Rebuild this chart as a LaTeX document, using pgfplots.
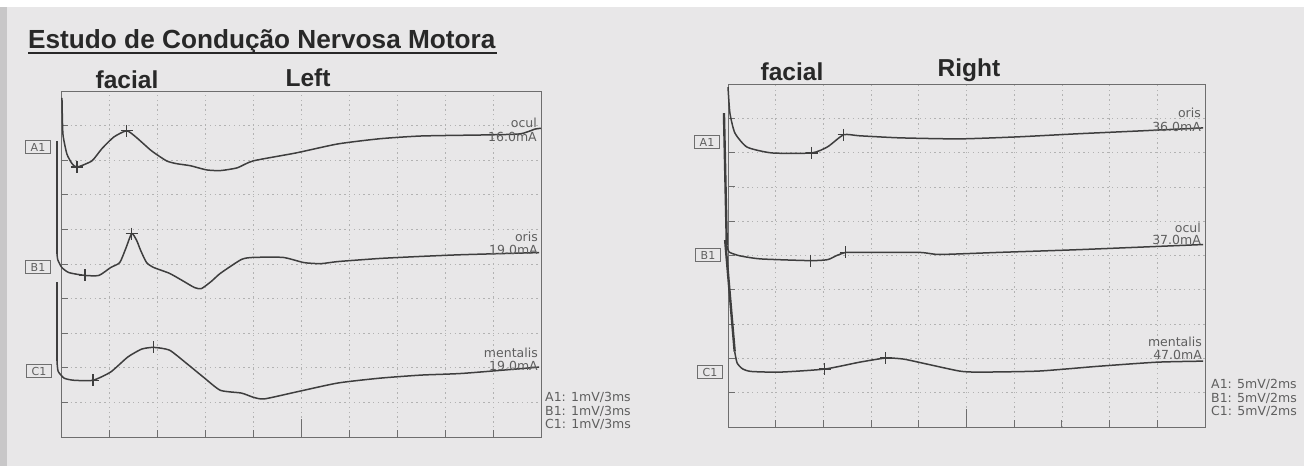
\documentclass[border=0pt]{standalone}
\usepackage{fontspec}
\setmainfont{DejaVu Sans}
\newfontfamily\headfont{Liberation Sans}
\usepackage{pgfplots}
\pgfplotsset{compat=1.18}
\definecolor{paper}{RGB}{232,231,232}
\definecolor{edge}{RGB}{200,199,200}
\definecolor{trace}{RGB}{62,62,62}
\definecolor{frame}{RGB}{110,110,110}
\definecolor{gridc}{RGB}{178,178,178}
\definecolor{ink}{RGB}{40,40,40}
\definecolor{smallink}{RGB}{95,95,95}
\pgfplotsset{
  emg/.style={
    scale only axis, anchor=south west, clip=false,
    ymin=0, ymax=10, ytick={0,1,...,10},
    xticklabels={}, yticklabels={},
    axis line style={frame, line width=0.9pt},
    tick pos=left, tick align=inside,
    major tick length=7pt,
    tick style={frame, line width=0.9pt},
    grid=major,
    major grid style={gridc, line width=0.7pt, dash pattern=on 1.4pt off 3.4pt},
    extra tick style={major tick length=18pt, grid=none},
    extra x tick labels={},
  },
  tr/.style={trace, line width=1.5pt, smooth, tension=0.35, line join=round},
  art/.style={trace, line width=2.4pt},
  mk/.style={trace, only marks, mark=+, mark size=6pt, mark options={line width=1.3pt}},
}
\newcommand{\bigt}[1]{{\headfont\bfseries\fontsize{24.5}{28}\selectfont #1}}
\newcommand{\sml}[1]{{\fontsize{12.5}{14}\selectfont\color{smallink} #1}}
\begin{document}
\begin{tikzpicture}[x=1pt,y=1pt]
\fill[paper] (0pt,0pt) rectangle (1304pt,466pt);
\fill[white] (0pt,459pt) rectangle (1304pt,466pt);
\fill[edge] (0pt,0pt) rectangle (7pt,459pt);

% ---------------- Left panel ----------------
\begin{axis}[emg, at={(61pt,29pt)}, width=480pt, height=346pt,
  xmin=0, xmax=30, xtick={0,3,...,30}, extra x ticks={15}]
% A1 ocul
\addplot[tr] coordinates {(0.06,9.80) (0.12,8.76) (0.37,8.18) (0.69,7.90) (1.00,7.80) (1.93,7.98) (2.55,8.33) (3.30,8.67) (4.11,8.85) (4.73,8.65) (5.66,8.27) (6.60,7.98) (7.22,7.90) (8.09,7.84) (9.09,7.72) (9.96,7.70) (11.02,7.78) (12.01,7.98) (14.69,8.21) (17.30,8.47) (19.92,8.62) (22.53,8.70) (26.45,8.73) (28.69,8.76) (29.63,8.90) (30,8.92)};
\addplot[mk] coordinates {(1.00,7.80) (4.11,8.85)};
% B1 oris
\addplot[art] coordinates {(-0.25,8.56) (-0.25,5.30)};
\addplot[tr] coordinates {(-0.25,5.30) (-0.20,5.12) (0.05,4.90) (0.50,4.75) (1.50,4.67) (2.37,4.67) (3.11,4.90) (3.67,5.04) (4.05,5.45) (4.42,5.88) (4.73,5.68) (4.98,5.39) (5.35,5.04) (5.79,4.90) (6.78,4.73) (7.59,4.52) (8.34,4.32) (8.78,4.29) (9.40,4.50) (9.96,4.73) (11.27,5.13) (12.01,5.19) (13.88,5.19) (15.19,5.04) (16.24,5.01) (17.30,5.07) (19.92,5.16) (22.53,5.22) (25.15,5.27) (29.88,5.33)};
\addplot[mk] coordinates {(1.50,4.67) (4.42,5.88)};
% C1 mentalis
\addplot[art] coordinates {(-0.25,4.47) (-0.25,2.20)};
\addplot[tr] coordinates {(-0.25,2.20) (-0.18,1.90) (0.20,1.70) (0.80,1.64) (2.00,1.64) (3.11,1.88) (4.17,2.31) (5.04,2.54) (5.79,2.59) (6.78,2.51) (7.84,2.13) (8.90,1.73) (9.96,1.35) (11.27,1.27) (12.01,1.15) (12.70,1.10) (14.69,1.30) (17.30,1.56) (19.92,1.70) (22.53,1.79) (25.15,1.84) (29.88,2.02)};
\addplot[mk] coordinates {(2.00,1.64) (5.79,2.59)};
\end{axis}

% ---------------- Right panel ----------------
\begin{axis}[emg, at={(728pt,39pt)}, width=477pt, height=343pt,
  xmin=0, xmax=20, xtick={0,2,...,20}, extra x ticks={10}]
% A1 oris
\addplot[tr] coordinates {(0.0,9.91) (0.08,9.15) (0.29,8.57) (0.80,8.16) (1.84,7.99) (3.51,7.99) (4.18,8.17) (4.85,8.52) (5.52,8.49) (7.20,8.43) (9.71,8.40) (12.18,8.46) (14.69,8.55) (17.20,8.63) (19.92,8.72)};
\addplot[mk] coordinates {(3.51,7.99) (4.85,8.52)};
% B1 ocul
\addplot[art] coordinates {(-0.17,9.15) (-0.05,5.30)};
\addplot[tr] coordinates {(-0.05,5.30) (0.05,5.10) (0.50,4.99) (1.38,4.90) (3.47,4.85) (4.18,4.88) (4.56,5.00) (4.94,5.09) (5.52,5.09) (8.03,5.09) (8.87,5.03) (11.34,5.09) (14.69,5.17) (19.92,5.32)};
\addplot[mk] coordinates {(3.47,4.85) (4.94,5.09)};
% C1 mentalis
\addplot[art] coordinates {(-0.12,5.45) (0.28,2.20)};
\addplot[tr] coordinates {(0.28,2.20) (0.38,1.87) (0.60,1.70) (0.96,1.62) (2.18,1.60) (4.06,1.69) (5.52,1.89) (6.61,2.01) (7.36,1.98) (8.37,1.83) (9.71,1.63) (10.50,1.60) (13.01,1.63) (15.52,1.77) (17.99,1.89) (19.92,1.92)};
\addplot[mk] coordinates {(4.06,1.69) (6.61,2.01)};
\end{axis}

% ---------------- Texts ----------------
\node[anchor=west, inner sep=0pt, text=ink] at (28pt,424pt) {{\headfont\bfseries\fontsize{26.2}{28}\selectfont Estudo de Condução Nervosa Motora}};
\draw[ink, line width=1.1pt] (28pt,413pt) -- (497pt,413pt);

\node[text=ink] at (127pt,386pt) {\bigt{facial}};
\node[text=ink] at (308pt,388pt) {\bigt{Left}};
\node[text=ink] at (792pt,394pt) {\bigt{facial}};
\node[text=ink] at (969pt,396pt) {\bigt{Right}};

\tikzset{lab/.style={draw=frame, line width=0.8pt, inner sep=1pt, minimum width=25pt, minimum height=13pt, text=smallink, font=\fontsize{11}{12}\selectfont}}
\node[lab] at (38pt,319pt) {A1};
\node[lab] at (38pt,199pt) {B1};
\node[lab] at (39pt,95pt) {C1};
\node[lab] at (707pt,324pt) {A1};
\node[lab] at (708pt,211pt) {B1};
\node[lab] at (710pt,94pt) {C1};

\tikzset{tl/.style={anchor=east, inner sep=0pt}}
\node[tl] at (537pt,343pt) {\sml{ocul}};
\node[tl] at (537pt,329pt) {\sml{16.0mA}};
\node[tl] at (538pt,229pt) {\sml{oris}};
\node[tl] at (538pt,216pt) {\sml{19.0mA}};
\node[tl] at (538pt,113pt) {\sml{mentalis}};
\node[tl] at (538pt,100pt) {\sml{19.0mA}};
\node[tl] at (1201pt,353pt) {\sml{oris}};
\node[tl] at (1201pt,339pt) {\sml{36.0mA}};
\node[tl] at (1201pt,238pt) {\sml{ocul}};
\node[tl] at (1201pt,226pt) {\sml{37.0mA}};
\node[tl] at (1202pt,124pt) {\sml{mentalis}};
\node[tl] at (1202pt,111pt) {\sml{47.0mA}};

\tikzset{sc/.style={anchor=west, inner sep=0pt}}
\node[sc] at (545pt,69pt) {\sml{A1: 1mV/3ms}};
\node[sc] at (545pt,55pt) {\sml{B1: 1mV/3ms}};
\node[sc] at (545pt,42pt) {\sml{C1: 1mV/3ms}};
\node[sc] at (1211pt,82pt) {\sml{A1: 5mV/2ms}};
\node[sc] at (1211pt,68pt) {\sml{B1: 5mV/2ms}};
\node[sc] at (1211pt,55pt) {\sml{C1: 5mV/2ms}};
\end{tikzpicture}
\end{document}
